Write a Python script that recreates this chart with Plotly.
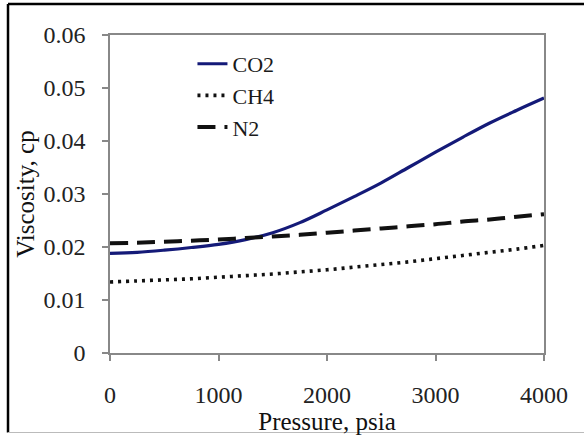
import plotly.graph_objects as go

pressure = [0, 250, 500, 750, 1000, 1250, 1500, 1750, 2000, 2250, 2500, 2750, 3000, 3250, 3500, 3750, 4000]
co2 = [0.0188, 0.0190, 0.0194, 0.0199, 0.0205, 0.0214, 0.0227, 0.0246, 0.0270, 0.0295, 0.0321, 0.0350, 0.0379, 0.0407, 0.0434, 0.0458, 0.0481]
ch4 = [0.0134, 0.0136, 0.0138, 0.0140, 0.0143, 0.0146, 0.0149, 0.0153, 0.0157, 0.0162, 0.0167, 0.0172, 0.0178, 0.0184, 0.0190, 0.0196, 0.0203]
n2 = [0.0207, 0.0208, 0.0210, 0.0212, 0.0214, 0.0217, 0.0220, 0.0223, 0.0227, 0.0231, 0.0235, 0.0239, 0.0243, 0.0248, 0.0252, 0.0257, 0.0262]

FONT = "Liberation Serif, Times New Roman, serif"

fig = go.Figure()
fig.add_trace(go.Scatter(x=pressure, y=co2, name="CO2", mode="lines",
                         line=dict(color="#141a78", width=3.2, shape="spline")))
fig.add_trace(go.Scatter(x=pressure, y=ch4, name="CH4", mode="lines",
                         line=dict(color="#111111", width=3.6, dash="3px,5px", shape="spline")))
fig.add_trace(go.Scatter(x=pressure, y=n2, name="N2", mode="lines",
                         line=dict(color="#111111", width=4, dash="18px,9px", shape="spline")))

fig.update_layout(
    width=584, height=435,
    margin=dict(l=110, r=40, t=35, b=82, autoexpand=False),
    paper_bgcolor="white", plot_bgcolor="white",
    font=dict(family=FONT, color="#222222"),
    showlegend=True,
    legend=dict(x=0.19, y=0.975, xanchor="left", yanchor="top",
                bgcolor="rgba(0,0,0,0)", font=dict(family=FONT, size=22, color="#1a1a1a"),
                itemwidth=30),
    xaxis=dict(range=[0, 4000], tickvals=[0, 1000, 2000, 3000, 4000],
               ticks="outside", ticklen=6, tickcolor="#888888", tickwidth=1.5,
               showline=True, linecolor="#888888", linewidth=1.5, mirror=True,
               showgrid=False, zeroline=False, automargin=False,
               tickfont=dict(family=FONT, size=24, color="#222222"),
               ticklabelstandoff=13,
               title=dict(text="Pressure, psia", font=dict(family=FONT, size=25, color="#111111"), standoff=2)),
    yaxis=dict(range=[0, 0.06], tickvals=[0, 0.01, 0.02, 0.03, 0.04, 0.05, 0.06],
               ticktext=["0", "0.01", "0.02", "0.03", "0.04", "0.05", "0.06"],
               ticks="outside", ticklen=6, tickcolor="#888888", tickwidth=1.5,
               showline=True, linecolor="#888888", linewidth=1.5, mirror=True,
               showgrid=False, zeroline=False, automargin=False,
               tickfont=dict(family=FONT, size=24, color="#222222"),
               ticklabelstandoff=12,
               title=dict(text="Viscosity, cp", font=dict(family=FONT, size=25, color="#111111"), standoff=2)),
)

# outer frame of the image
fig.add_shape(type="line", xref="paper", yref="paper", x0=-0.235, x1=1.1, y0=1.0975, y1=1.0975,
              line=dict(color="black", width=2.5))
fig.add_shape(type="line", xref="paper", yref="paper", x0=-0.235, x1=-0.235, y0=1.0975, y1=-0.25,
              line=dict(color="black", width=2.5))
fig.add_shape(type="line", xref="paper", yref="paper", x0=-0.235, x1=1.1, y0=-0.25, y1=-0.25,
              line=dict(color="#bbbbbb", width=1))

fig.write_html("out.html", config={"displayModeBar": False},
               post_script="document.body.style.margin='0';")
